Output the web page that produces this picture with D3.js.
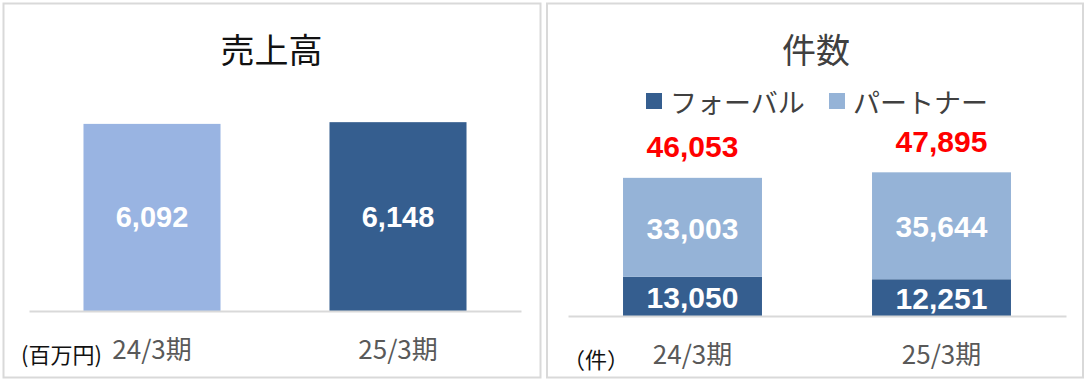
<!DOCTYPE html>
<html><head><meta charset="utf-8">
<script src="https://cdn.jsdelivr.net/npm/d3@7"></script>
<style>
html,body{margin:0;padding:0;background:#fff;}
svg{display:block;}
</style></head>
<body>
<svg id="c" width="1090" height="381"></svg>
<script>
// ---- data ----
const categories = ["24/3期", "25/3期"];
const salesValues = [6092, 6148];
const salesTitle = "売上高";
const salesUnit = "(百万円)";
const countTitle = "件数";
const countUnit = "（件）";
const seriesNames = ["フォーバル", "パートナー"];
const forvalValues = [13050, 12251];
const partnerValues = [33003, 35644];
const totalValues = [46053, 47895];

const fmt = d3.format(",");
const svg = d3.select("#c");
const jp = "'Noto Sans CJK JP','Noto Sans',sans-serif";
const num = "'Liberation Sans',Arial,sans-serif";
const lightLeft = "#99B4E2", darkBlue = "#355E8F", partnerC = "#95B3D7";

// panels
svg.append("rect").attr("x",3.5).attr("y",3.5).attr("width",537).attr("height",374)
  .attr("fill","#fff").attr("stroke","#d9d9d9").attr("stroke-width",2);
svg.append("rect").attr("x",547).attr("y",3.5).attr("width",536).attr("height",374)
  .attr("fill","#fff").attr("stroke","#d9d9d9").attr("stroke-width",2);

// ---- left chart ----
{
  const g = svg.append("g");
  const x = d3.scaleBand().domain(categories).range([29,521]).paddingInner(0.443).paddingOuter(0.2215);
  const y = d3.scaleLinear().domain([0,7000]).range([311,96]);
  g.append("text").attr("x",271.5).attr("y",48).attr("text-anchor","middle")
    .attr("dominant-baseline","central").attr("font-family",jp).attr("font-size",34)
    .attr("fill","#111").text(salesTitle);
  const cols = [lightLeft, darkBlue];
  g.selectAll("rect.bar").data(salesValues).join("rect").attr("class","bar")
    .attr("x",(d,i)=>x(categories[i])).attr("width",x.bandwidth())
    .attr("y",d=>y(d)).attr("height",d=>y(0)-y(d)).attr("fill",(d,i)=>cols[i]);
  g.selectAll("text.val").data(salesValues).join("text").attr("class","val")
    .attr("x",(d,i)=>x(categories[i])+x.bandwidth()/2).attr("y",d=>(y(d)+y(0))/2)
    .attr("text-anchor","middle").attr("dominant-baseline","central")
    .attr("font-family",num).attr("font-weight","bold").attr("font-size",29)
    .attr("fill","#fff").text(d=>fmt(d));
  const ax = g.append("g").attr("transform",`translate(0,${y(0)})`)
    .call(d3.axisBottom(x).tickSize(0).tickPadding(24));
  ax.select(".domain").attr("stroke","#d9d9d9").attr("stroke-width",2);
  ax.selectAll("text").attr("font-family",jp).attr("font-size",26).attr("fill","#595959")
    .attr("dy",null).attr("y",36).attr("dominant-baseline","central");
  g.append("text").attr("x",21).attr("y",353).attr("dominant-baseline","central")
    .attr("font-family",jp).attr("font-size",22).attr("fill","#111").text(salesUnit);
}

// ---- right chart ----
{
  const g = svg.append("g");
  const x = d3.scaleBand().domain(categories).range([568,1066]).paddingInner(0.442).paddingOuter(0.221);
  const y = d3.scaleLinear().domain([0,60000]).range([316,136]);
  g.append("text").attr("x",816).attr("y",48).attr("text-anchor","middle")
    .attr("dominant-baseline","central").attr("font-family",jp).attr("font-size",34)
    .attr("fill","#404040").text(countTitle);
  // legend
  const legCols = [darkBlue, partnerC];
  const legX = [646, 829];
  seriesNames.forEach((n,i)=>{
    g.append("rect").attr("x",legX[i]).attr("y",93).attr("width",16).attr("height",16).attr("fill",legCols[i]);
    g.append("text").attr("x",legX[i]+24).attr("y",101).attr("dominant-baseline","central")
      .attr("font-family",jp).attr("font-size",27).attr("fill","#404040").text(n);
  });
  const stacked = d3.stack().keys(["forval","partner"])(
    categories.map((c,i)=>({cat:c, forval:forvalValues[i], partner:partnerValues[i]})));
  stacked.forEach((layer,li)=>{
    g.selectAll(null).data(layer).join("rect")
      .attr("x",d=>x(d.data.cat)).attr("width",x.bandwidth())
      .attr("y",d=>y(d[1])).attr("height",d=>y(d[0])-y(d[1])).attr("fill",legCols[li]);
    g.selectAll(null).data(layer).join("text")
      .attr("x",d=>x(d.data.cat)+x.bandwidth()/2).attr("y",d=>(y(d[0])+y(d[1]))/2+1)
      .attr("text-anchor","middle").attr("dominant-baseline","central")
      .attr("font-family",num).attr("font-weight","bold").attr("font-size",30)
      .attr("fill","#fff").text(d=>fmt(d[1]-d[0]));
  });
  g.selectAll("text.tot").data(totalValues).join("text").attr("class","tot")
    .attr("x",(d,i)=>x(categories[i])+x.bandwidth()/2).attr("y",d=>y(d)-31)
    .attr("text-anchor","middle").attr("dominant-baseline","central")
    .attr("font-family",num).attr("font-weight","bold").attr("font-size",30)
    .attr("fill","#ff0000").text(d=>fmt(d));
  const ax = g.append("g").attr("transform",`translate(0,${y(0)})`)
    .call(d3.axisBottom(x).tickSize(0).tickPadding(24));
  ax.select(".domain").attr("stroke","#d9d9d9").attr("stroke-width",2);
  ax.selectAll("text").attr("font-family",jp).attr("font-size",26).attr("fill","#595959")
    .attr("dy",null).attr("y",36).attr("dominant-baseline","central");
  g.append("text").attr("x",596).attr("y",358).attr("text-anchor","middle").attr("dominant-baseline","central")
    .attr("font-family",jp).attr("font-size",22).attr("fill","#111").text(countUnit);
}
</script>
</body></html>
